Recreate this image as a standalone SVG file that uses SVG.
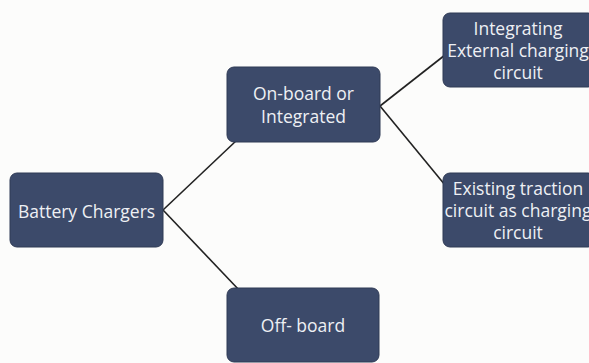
<svg xmlns="http://www.w3.org/2000/svg" width="589" height="363" viewBox="0 0 589 363">
  <style>
    .box { fill: #3c4a6a; stroke: #2f3a55; stroke-width: 1; }
    .lbl { fill: #eef0f4; font-family: "Open Sans", "Liberation Sans", sans-serif; font-size: 17.5px; text-anchor: middle; dominant-baseline: central; }
    .link { stroke: #222; stroke-width: 1.6; fill: none; }
  </style>
  <rect width="589" height="363" fill="#fcfcfb"/>
  <g id="connectors">
    <line class="link" x1="163" y1="210" x2="237" y2="140"/>
    <line class="link" x1="163" y1="210" x2="240" y2="291"/>
    <line class="link" x1="380" y1="106" x2="445" y2="55"/>
    <line class="link" x1="380" y1="106" x2="445" y2="185"/>
  </g>
  <g id="battery-chargers">
    <rect class="box" x="10" y="173" width="153" height="74" rx="7"/>
    <text class="lbl" x="86.5" y="211">Battery Chargers</text>
  </g>
  <g id="on-board">
    <rect class="box" x="227" y="67" width="153" height="75" rx="7"/>
    <text class="lbl" x="303.5" y="93">On-board or</text>
    <text class="lbl" x="303.5" y="116">Integrated</text>
  </g>
  <g id="off-board">
    <rect class="box" x="227" y="288" width="152" height="74" rx="7"/>
    <text class="lbl" x="303" y="325">Off- board</text>
  </g>
  <g id="integrating-external">
    <rect class="box" x="443" y="13" width="152" height="74" rx="7"/>
    <text class="lbl" x="518" y="28">Integrating</text>
    <text class="lbl" x="518" y="50">External charging</text>
    <text class="lbl" x="518" y="72">circuit</text>
  </g>
  <g id="existing-traction">
    <rect class="box" x="443" y="173" width="152" height="74" rx="7"/>
    <text class="lbl" x="518" y="188">Existing traction</text>
    <text class="lbl" x="518" y="210">circuit as charging</text>
    <text class="lbl" x="518" y="232">circuit</text>
  </g>
</svg>
